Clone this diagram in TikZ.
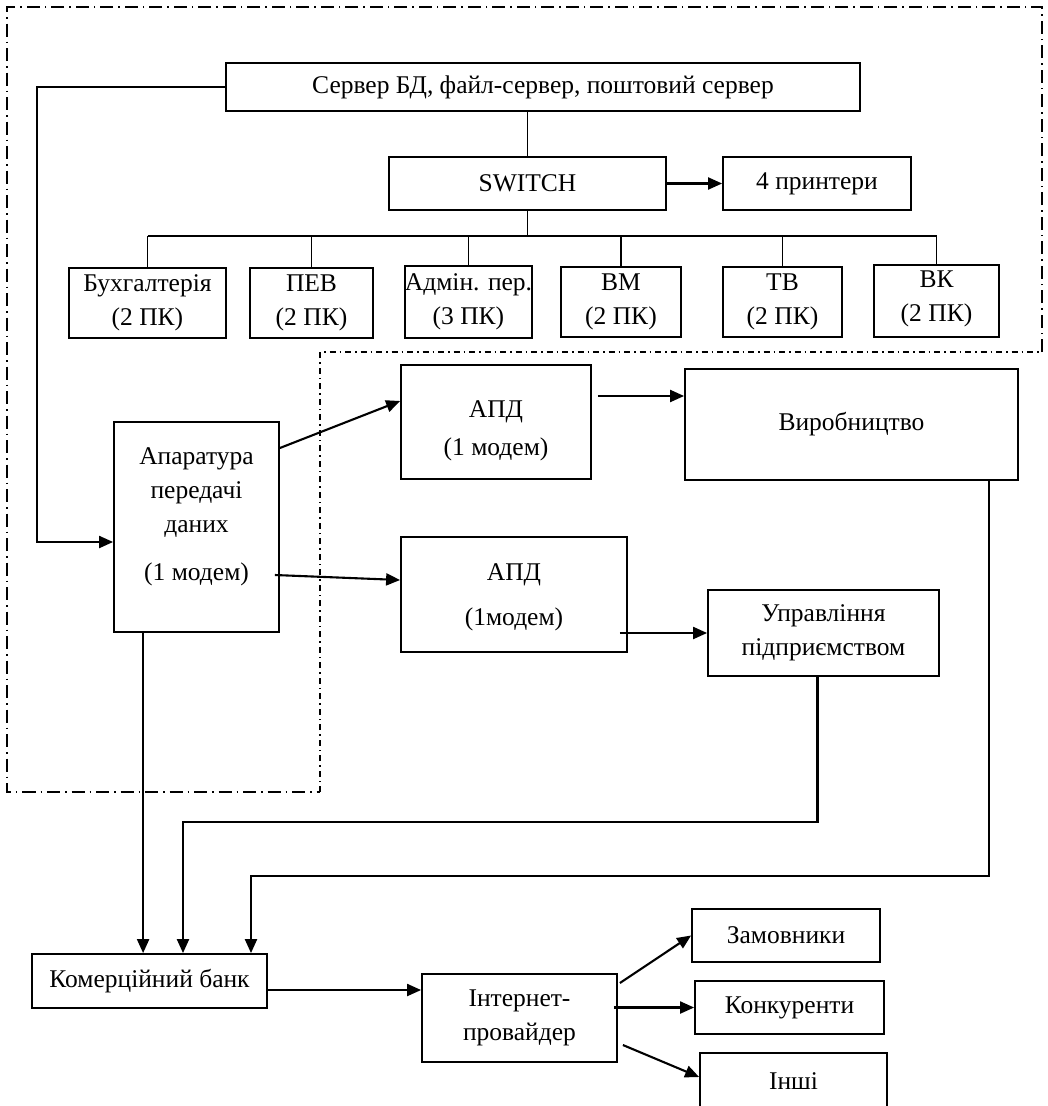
\documentclass[tikz,border=0pt]{standalone}
\usepackage{fontspec}
\setmainfont{Liberation Serif}
\usetikzlibrary{arrows.meta,calc}
\begin{document}
\begin{tikzpicture}[x=1pt,y=-1pt,
  box/.style={draw, line width=1.8pt, inner sep=0pt, align=center, font=\fontsize{25.5}{34}\selectfont},
  lbl/.style={inner sep=0pt, align=center, font=\fontsize{25.5}{34}\selectfont},
  conn/.style={line width=1.8pt},
  arr/.style={line width=2.1pt, -{Triangle[length=14pt,width=12pt]}},
  frameA/.style={line width=1.5pt, dash pattern=on 13pt off 5pt on 1.5pt off 5pt},
  frameB/.style={line width=1.5pt, dash pattern=on 6pt off 4pt on 1.5pt off 4pt},
]
\useasboundingbox (0,0) rectangle (1048,1106);
\clip (0,0) rectangle (1048,1106);
\fill[white] (0,0) rectangle (1048,1106);

% frames
\draw[frameA] (1042,352) -- (1042,7) -- (7,7) -- (7,792) -- (320,792);
\draw[frameB] (320,792) -- (320,352) -- (1042,352);

% top part
\node[box, minimum width=634pt, minimum height=48pt] (srv) at (543,87) {Сервер БД, файл-сервер, поштовий сервер};
\node[box, minimum width=277pt, minimum height=53pt] (sw) at (527.5,183.5) {SWITCH};
\node[box, minimum width=188pt, minimum height=53pt] (prn) at (817,183.5) {4 принтери};

\node[box, minimum width=157pt, minimum height=70pt] (buh) at (147.5,303) {Бухгалтерія\\(2 ПК)};
\node[box, minimum width=123pt, minimum height=70pt] (pev) at (311.5,303) {ПЕВ\\(2 ПК)};
\node[box, minimum width=127pt, minimum height=72pt, label={[lbl]center:{Адмін. пер.\\(3 ПК)}}] (adm) at (468.5,302) {};
\node[box, minimum width=120pt, minimum height=70pt] (vm) at (621,302) {ВМ\\(2 ПК)};
\node[box, minimum width=119pt, minimum height=70pt] (tv) at (782.5,302) {ТВ\\(2 ПК)};
\node[box, minimum width=125pt, minimum height=72pt, label={[lbl,yshift=2pt]center:{ВК\\(2 ПК)}}] (vk) at (936.5,301) {};

\coordinate (busL) at (144,236);
\draw[conn] (srv.south -| sw.north) -- (sw.north);
\draw[conn] (sw.south) -- (sw.south |- busL);
\draw[conn] (buh.north |- busL) -- (vk.north |- busL);
\foreach \n in {buh,pev,adm,vm,tv,vk} \draw[conn] (\n.north) -- (\n.north |- busL);
\draw[arr] (sw.east) -- (prn.west);

% middle
\node[box, minimum width=165pt, minimum height=210pt, label={[lbl,yshift=10pt]center:{Апаратура\\передачі\\даних\\[14pt](1 модем)}}] (apar) at (196.5,527) {};
\node[box, minimum width=190pt, minimum height=114pt, label={[lbl,yshift=-9pt]center:{АПД\\[4pt](1 модем)}}] (apd1) at (496,422) {};
\node[box, minimum width=226pt, minimum height=115pt, label={[lbl,yshift=-3pt]center:{АПД\\[11pt](1модем)}}] (apd2) at (514,594.5) {};
\node[box, minimum width=333pt, minimum height=111pt] (vyr) at (851.5,424.5) {Виробництво};
\node[box, minimum width=231pt, minimum height=86pt] (upr) at (823.5,633) {Управління\\підприємством};

\coordinate (c1) at (37,542);
\draw[arr] (srv.west) -| (c1) -- (c1 -| apar.west);
\draw[arr] (apar.east |- 0,448) -- (apd1.west |- 0,401);
\draw[arr] ([xshift=-5pt]apar.east |- 0,575) -- (apd2.west |- 0,580);
\draw[arr] ([xshift=6pt]apd1.east |- 0,396) -- (vyr.west |- 0,396);
\draw[arr] ([xshift=-8pt]apd2.east |- upr.west) -- (upr.west);

% bottom
\node[box, minimum width=235pt, minimum height=54pt] (bank) at (149.5,981) {Комерційний банк};
\node[box, minimum width=195pt, minimum height=88pt] (prov) at (519.5,1018) {Інтернет-\\провайдер};
\node[box, minimum width=188pt, minimum height=53pt] (zam) at (786,935.5) {Замовники};
\node[box, minimum width=189pt, minimum height=53pt] (kon) at (789.5,1007.5) {Конкуренти};
\node[box, minimum width=187pt, minimum height=56pt] (inshi) at (793.5,1081) {Інші};

\coordinate (a3) at ([xshift=30pt]apar.south west);
\draw[arr] (a3) -- (a3 |- bank.north);
\coordinate (c2) at (183,822);
\draw[arr] ([xshift=-6pt]upr.south) |- (c2) -- (c2 |- bank.north);
\coordinate (c3) at (251,876);
\draw[arr] ([xshift=-30pt]vyr.south east) |- (c3) -- (c3 |- bank.north);

\draw[arr] (bank.east |- 0,990) -- (prov.west |- 0,990);
\draw[arr] ([xshift=2pt]prov.east |- 0,983) -- (zam.west);
\draw[arr] ([xshift=-4pt]prov.east |- kon.west) -- (kon.west);
\draw[arr] ([xshift=5pt]prov.east |- 0,1045) -- ([yshift=4pt]inshi.west);
\end{tikzpicture}
\end{document}
